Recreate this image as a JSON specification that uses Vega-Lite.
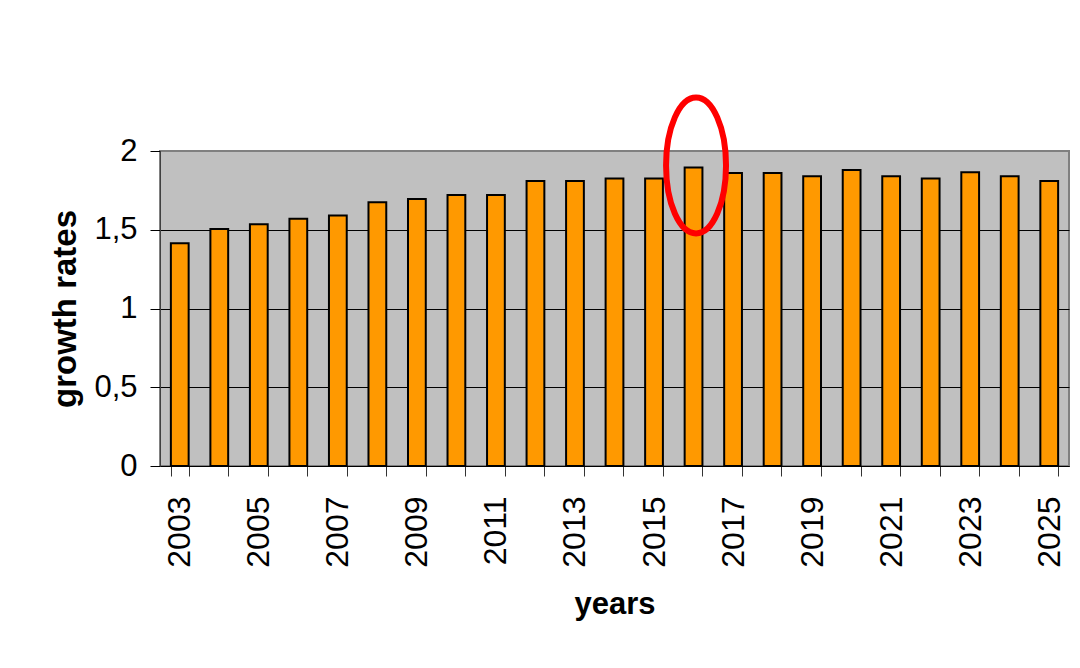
{
  "$schema": "https://vega.github.io/schema/vega-lite/v6.json",
  "autosize": {"type": "none"},
  "width": 909,
  "height": 315,
  "padding": {"left": 160, "top": 151, "right": 11, "bottom": 202},
  "background": "white",
  "config": {
    "font": "Liberation Sans",
    "view": {"fill": "#c0c0c0", "stroke": "#808080", "strokeWidth": 2}
  },
  "datasets": {
    "rates": [
      {"year": "2003", "value": 1.415},
      {"year": "2004", "value": 1.505},
      {"year": "2005", "value": 1.535},
      {"year": "2006", "value": 1.57},
      {"year": "2007", "value": 1.59},
      {"year": "2008", "value": 1.675},
      {"year": "2009", "value": 1.695},
      {"year": "2010", "value": 1.72},
      {"year": "2011", "value": 1.72},
      {"year": "2012", "value": 1.81},
      {"year": "2013", "value": 1.81},
      {"year": "2014", "value": 1.825},
      {"year": "2015", "value": 1.825},
      {"year": "2016", "value": 1.895},
      {"year": "2017", "value": 1.86},
      {"year": "2018", "value": 1.86},
      {"year": "2019", "value": 1.84},
      {"year": "2020", "value": 1.88},
      {"year": "2021", "value": 1.84},
      {"year": "2022", "value": 1.825},
      {"year": "2023", "value": 1.865},
      {"year": "2024", "value": 1.84},
      {"year": "2025", "value": 1.81}
    ],
    "highlight": [
      {"year": "2016", "value": 1.908}
    ]
  },
  "layer": [
    {
      "data": {"name": "rates"},
      "mark": {"type": "bar", "fill": "#ff9900", "stroke": "black", "strokeWidth": 2},
      "encoding": {
        "x": {
          "field": "year",
          "type": "ordinal",
          "scale": {"paddingInner": 0.55, "paddingOuter": 0.275},
          "axis": {
            "title": "years",
            "titleFontSize": 31,
            "titleFontWeight": "bold",
            "titleColor": "black",
            "titleX": 454.5,
            "titleY": 147,
            "titleBaseline": "alphabetic",
            "labelAngle": -90,
            "labelFontSize": 32,
            "labelColor": "black",
            "labelPadding": 20,
            "labelExpr": "parseInt(datum.value) % 2 == 1 ? datum.value : ''",
            "tickBand": "extent",
            "tickSize": 10,
            "tickColor": "#333333",
            "domainColor": "black",
            "domainWidth": 1,
            "grid": false
          }
        },
        "y": {
          "field": "value",
          "type": "quantitative",
          "scale": {"domain": [0, 2], "nice": false},
          "axis": {
            "title": "growth rates",
            "titleFontSize": 33,
            "titleFontWeight": "bold",
            "titleColor": "black",
            "titleX": -85,
            "titleY": 157.5,
            "titleAngle": -90,
            "titleAlign": "center",
            "titleBaseline": "alphabetic",
            "values": [0, 0.5, 1, 1.5, 2],
            "format": ".1~f",
            "labelExpr": "replace(datum.label, '.', ',')",
            "labelFontSize": 31,
            "labelColor": "black",
            "labelPadding": 13,
            "tickSize": 10,
            "tickColor": "black",
            "domainColor": "#404040",
            "domainWidth": 1,
            "grid": true,
            "gridColor": {"condition": {"test": "datum.value == 2", "value": "#808080"}, "value": "black"},
            "gridWidth": 1,
            "gridOpacity": 1
          }
        }
      }
    },
    {
      "data": {"name": "highlight"},
      "mark": {
        "type": "point",
        "shape": "M 0 -1 C 0.2433 -1 0.441 -0.5523 0.441 0 C 0.441 0.5523 0.2433 1 0 1 C -0.2433 1 -0.441 0.5523 -0.441 0 C -0.441 -0.5523 -0.2433 -1 0 -1 Z",
        "size": 18496,
        "filled": false,
        "stroke": "#ff0000",
        "strokeWidth": 6,
        "opacity": 1,
        "xOffset": 2.5
      },
      "encoding": {
        "x": {"field": "year", "type": "ordinal"},
        "y": {"field": "value", "type": "quantitative"}
      }
    }
  ]
}
